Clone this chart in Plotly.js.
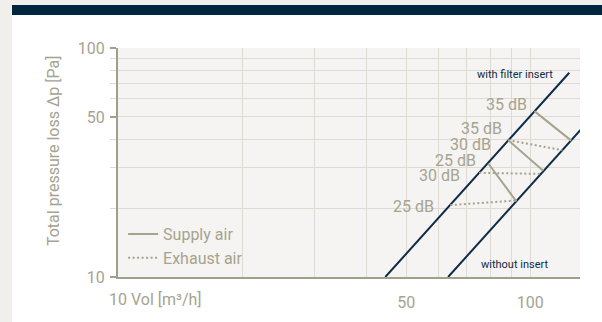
<!DOCTYPE html>
<html><head><meta charset="utf-8">
<script src="https://cdn.plot.ly/plotly-3.0.1.min.js"></script>
<style>
html,body{margin:0;padding:0;background:#f0efeb;width:602px;height:322px;overflow:hidden}
#band{position:absolute;left:12px;top:5px;width:590px;height:10px;background:#00263f}
#chart{position:absolute;left:12px;top:15px;width:590px;height:307px;background:#fff}
</style></head><body>
<div id="band"></div><div id="chart"></div>
<script>
// Characteristic curves: total pressure loss against volume flow
const filterVol = [44.5, 124.3];
const filterDp = [10, 78];
const plainVol = [63.2, 140];
const plainDp = [10, 49.1];

// Sound-level lines between the two curves (supply air: solid)
const supplyDb = [35, 30, 25];
const supplyVolA = [102.3, 88.4, 79.1];
const supplyDpA = [53, 39.6, 31.3];
const supplyVolB = [125.7, 107.5, 92.5];
const supplyDpB = [39.4, 29.1, 21.4];

// Exhaust air: dotted
const exhaustDb = [35, 30, 25];
const exhaustVolA = [88.4, 75.2, 64.0];
const exhaustDpA = [39.6, 28.5, 20.6];
const exhaustVolB = [119.6, 106.3, 93.0];
const exhaustDpB = [35.8, 28.2, 21.6];

const xTickVals = [10, 20, 30, 40, 50, 60, 70, 80, 90, 100];
const xTickText = ['', '', '', '', '50', '', '', '', '', '100'];
const yTickVals = [10, 50, 100];
const yTickText = ['10', '50', '100'];
const yMinorVals = [20, 30, 40, 60, 70, 80, 90];

// label offsets in pixels [dx, dy]
const supplyLabelShift = [[-5, 6.5], [-15, -4.5], [-10, 3]];
const exhaustLabelShift = [[-4, 12], [-17, -3], [-14, -1]];

const NAVY = '#0e2c47';
const GREY = '#a6a38f';
const AXIS = '#a19e8a';
const GRID = '#dddbd3';
const FONT = 'Roboto, "Noto Sans", sans-serif';

const traces = [
  {x: filterVol, y: filterDp, mode: 'lines', line: {color: NAVY, width: 2}, showlegend: false},
  {x: plainVol, y: plainDp, mode: 'lines', line: {color: NAVY, width: 2}, showlegend: false}
];
supplyDb.forEach((db, i) => traces.push({
  x: [supplyVolA[i], supplyVolB[i]], y: [supplyDpA[i], supplyDpB[i]],
  mode: 'lines', line: {color: GREY, width: 2},
  name: 'Supply air', legendgroup: 'supply', showlegend: i === 0
}));
exhaustDb.forEach((db, i) => traces.push({
  x: [exhaustVolA[i], exhaustVolB[i]], y: [exhaustDpA[i], exhaustDpB[i]],
  mode: 'lines', line: {color: GREY, width: 2, dash: '2px,2.5px'},
  name: 'Exhaust air', legendgroup: 'exhaust', showlegend: i === 0
}));

const annotations = [];
supplyDb.forEach((db, i) => annotations.push({
  x: Math.log10(supplyVolA[i]), y: Math.log10(supplyDpA[i]), xref: 'x', yref: 'y',
  text: db + ' dB', showarrow: false, xanchor: 'right', yanchor: 'middle',
  xshift: supplyLabelShift[i][0], yshift: supplyLabelShift[i][1],
  font: {family: FONT, size: 16, color: GREY}
}));
exhaustDb.forEach((db, i) => annotations.push({
  x: Math.log10(exhaustVolA[i]), y: Math.log10(exhaustDpA[i]), xref: 'x', yref: 'y',
  text: db + ' dB', showarrow: false, xanchor: 'right', yanchor: 'middle',
  xshift: exhaustLabelShift[i][0], yshift: exhaustLabelShift[i][1],
  font: {family: FONT, size: 16, color: GREY}
}));
annotations.push(
  {x: Math.log10(filterVol[1]), y: Math.log10(filterDp[1]), xref: 'x', yref: 'y',
   text: 'with filter insert', showarrow: false, xanchor: 'right', yanchor: 'middle',
   xshift: -14, yshift: -2, font: {family: FONT, size: 11, color: NAVY}},
  {x: Math.log10(plainVol[0]), y: Math.log10(plainDp[0]), xref: 'x', yref: 'y',
   text: 'without insert', showarrow: false, xanchor: 'left', yanchor: 'middle',
   xshift: 31, yshift: 13, font: {family: FONT, size: 11, color: NAVY}},
  {x: 1, y: 0, xref: 'x', yref: 'paper', text: '10 Vol [m³/h]', showarrow: false,
   xanchor: 'left', yanchor: 'middle', xshift: -11, yshift: -22,
   font: {family: FONT, size: 16, color: GREY}},
  {x: 0, y: 0.55, xref: 'paper', yref: 'paper', text: 'Total pressure loss Δp [Pa]',
   textangle: -90, showarrow: false, xanchor: 'center', yanchor: 'middle', xshift: -65,
   font: {family: FONT, size: 16, color: GREY}}
);

const layout = {
  width: 590, height: 307,
  margin: {l: 106, r: 22, t: 33, b: 45},
  paper_bgcolor: '#ffffff', plot_bgcolor: '#f5f4f2',
  font: {family: FONT, size: 16, color: GREY},
  xaxis: {
    type: 'log', range: [1, Math.log10(132)],
    tickmode: 'array', tickvals: xTickVals, ticktext: xTickText,
    showgrid: true, gridcolor: GRID, gridwidth: 1,
    ticks: '', showline: true, linecolor: AXIS, linewidth: 2,
    ticklabelstandoff: 10, zeroline: false,
    tickfont: {family: FONT, size: 16, color: GREY}
  },
  yaxis: {
    type: 'log', range: [1, 2],
    tickmode: 'array', tickvals: yTickVals, ticktext: yTickText,
    showgrid: true, gridcolor: GRID, gridwidth: 1,
    ticks: 'outside', ticklen: 6, tickwidth: 2, tickcolor: AXIS,
    minor: {tickmode: 'array', tickvals: yMinorVals, ticks: 'outside', ticklen: 6,
            tickcolor: GRID, tickwidth: 1, showgrid: true, gridcolor: GRID, gridwidth: 1},
    showline: true, linecolor: AXIS, linewidth: 2, zeroline: false,
    ticklabelstandoff: 2,
    tickfont: {family: FONT, size: 16, color: GREY}
  },
  shapes: [
    {type: 'line', xref: 'x', yref: 'paper', x0: 1, x1: 1, y0: 0, y1: -7 / 229,
     line: {color: AXIS, width: 2}}
  ],
  showlegend: true,
  legend: {x: 0.011, y: 0.135, xanchor: 'left', yanchor: 'middle',
           bgcolor: 'rgba(0,0,0,0)', font: {family: FONT, size: 16, color: GREY},
           tracegroupgap: 0, itemwidth: 30},
  annotations: annotations,
  hovermode: false
};

Plotly.newPlot('chart', traces, layout, {staticPlot: true, displayModeBar: false});
</script>
</body></html>
